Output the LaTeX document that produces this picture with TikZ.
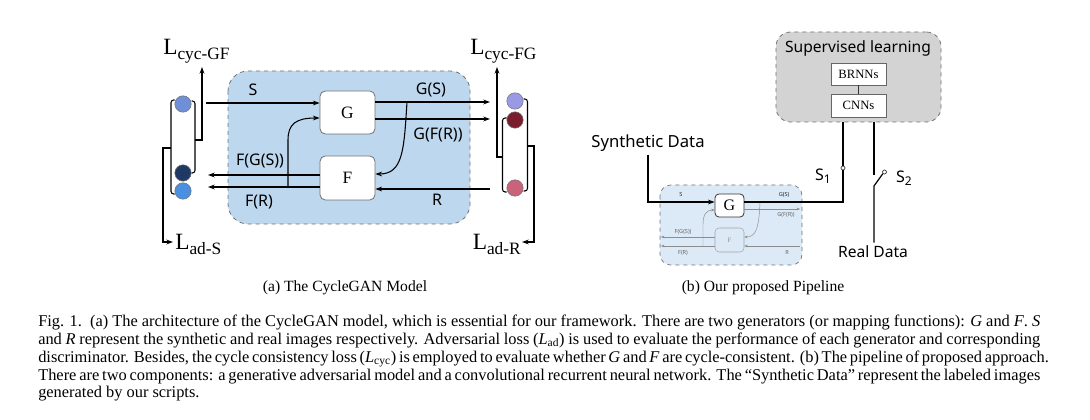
\documentclass[tikz,border=0pt]{standalone}
\usepackage{fontspec}
\setmainfont{Liberation Serif}
\newfontfamily\lblsans{Noto Sans}
\usetikzlibrary{arrows.meta}
\definecolor{cgblue}{RGB}{189,215,238}
\definecolor{cgblueL}{RGB}{220,233,246}
\definecolor{supgray}{RGB}{211,211,211}
\definecolor{cA}{RGB}{111,143,214}
\definecolor{cB}{RGB}{32,56,100}
\definecolor{cC}{RGB}{74,144,226}
\definecolor{cD}{RGB}{153,153,230}
\definecolor{cE}{RGB}{122,30,46}
\definecolor{cF}{RGB}{201,98,122}
\begin{document}
\begin{tikzpicture}[x=0.75pt,y=-0.75pt,
  arr/.style={-{Stealth[length=5pt,width=3.6pt]}, line width=0.8pt},
  ln/.style={line width=0.8pt},
  circ/.style={circle, draw=black!55, line width=0.4pt, minimum size=12.3pt, inner sep=0pt},
  genbox/.style={draw=black!55, fill=white, rounded corners=4pt, line width=0.6pt, minimum width=41.25pt, inner sep=0pt, font=\fontsize{13}{13}\selectfont},
  lbl/.style={font=\lblsans\fontsize{12}{12}\selectfont, inner sep=0pt},
  tiny/.style={font=\lblsans\fontsize{4.2}{4.2}\selectfont, inner sep=0pt, text=black!60},
  faint/.style={-{Stealth[length=2.5pt,width=2pt]}, line width=0.35pt, draw=black!45},
  capt/.style={font=\fontsize{11.7}{13.3}\selectfont, inner sep=0pt},
  lossl/.style={inner sep=0pt, font=\fontsize{17.5}{17.5}\selectfont}
]
\useasboundingbox (0,0) rectangle (1090,420);
\fill[white] (0,0) rectangle (1090,420);

% ================= (a) CycleGAN =================
\draw[dashed, draw=black!55, fill=cgblue, rounded corners=15pt, line width=0.6pt] (228,71) rectangle (470,224);
\node[genbox, minimum height=32.25pt] (G) at (347.5,112.5) {G};
\node[genbox, minimum height=33pt] (F) at (347.5,178) {F};

% circles
\node[circ, fill=cA] (c1) at (183,104) {};
\node[circ, fill=cB] (c2) at (183,173) {};
\node[circ, fill=cC] (c3) at (183,191) {};
\node[circ, fill=cD] (c4) at (515,101) {};
\node[circ, fill=cE] (c5) at (515,120) {};
\node[circ, fill=cF] (c6) at (515,188) {};

% coordinates
\coordinate (sL) at (206,103);
\coordinate (gsR) at (490,102);
\coordinate (gfrR) at (490,119);
\coordinate (fgsL) at (208,175);
\coordinate (frL) at (208,187);
\coordinate (rR) at (490,189);

% arrows
\draw[arr] (sL) -- (sL -| G.west);
\draw[arr] (G.east |- gsR) -- (gsR);
\draw[arr] (G.east |- gfrR) -- (gfrR);
\draw[arr] (F.west |- fgsL) -- (fgsL);
\draw[arr] (F.west |- frL) -- (frL);
\draw[arr] (rR) -- (F.east |- rR);
\draw[arr] (407,102) .. controls (404,150) and (403,174) .. (F.east |- 0,174);
\draw[arr] (288,187) -- (288,140) .. controls (288,124) and (296,118) .. (G.west |- 0,118);

% labels
\node[lbl] (lS) at (253,90) {S};
\node[lbl] (lGS) at (431,90) {G(S)};
\node[lbl] (lGFR) at (438,135) {G(F(R))};
\node[lbl] (lFGS) at (260,161) {F(G(S))};
\node[lbl] (lFR) at (259,202) {F(R)};
\node[lbl] (lR) at (437,200) {R};

% brackets left
\draw[ln, rounded corners=2pt] (191.5,101) -- (195,101) -- (195,173) -- (191.5,173);
\draw[ln, rounded corners=2pt] (174.5,100) -- (171,100) -- (171,194) -- (174.5,194);
\coordinate (cycGFtip) at (202,67);
\coordinate (adStip) at (173,242);
\draw[arr] (195,140) -- (202,140) -- (cycGFtip);
\draw[arr] (171,148) -- (163,148) -- (163,242) -- (adStip);
% brackets right
\draw[ln, rounded corners=2pt] (506.5,118) -- (502.5,118) -- (502.5,192) -- (506.5,192);
\draw[ln, rounded corners=2pt] (523.5,99) -- (527.5,99) -- (527.5,191) -- (523.5,191);
\coordinate (cycFGtip) at (497,67);
\coordinate (adRtip) at (522,242);
\draw[arr] (502.5,157) -- (497,157) -- (cycFGtip);
\draw[arr] (527.5,146) -- (534,146) -- (534,242) -- (adRtip);

% loss labels
\node[lossl, anchor=base west] (LcycGF) at (163,55) {L\raisebox{-0.45ex}{\fontsize{13}{13}\selectfont cyc-GF}};
\node[lossl, anchor=base west] (LcycFG) at (470,55) {L\raisebox{-0.45ex}{\fontsize{13}{13}\selectfont cyc-FG}};
\node[lossl, anchor=base west] (LadS) at (175,250) {L\raisebox{-0.45ex}{\fontsize{13}{13}\selectfont ad-S}};
\node[lossl, anchor=base east] (LadR) at (521,250) {L\raisebox{-0.45ex}{\fontsize{13}{13}\selectfont ad-R}};

% ================= (b) Pipeline =================
\node[draw=black!55, dashed, fill=supgray, rounded corners=11pt, minimum width=123.75pt, minimum height=67.5pt, line width=0.6pt] (sup) at (858.5,77) {};
\node[lbl, font=\lblsans\fontsize{11.7}{11.7}\selectfont] (suplbl) at (858,48) {Supervised learning};
\node[draw=black!60, fill=white, minimum width=41.25pt, minimum height=16.5pt, inner sep=0pt, font=\fontsize{9.5}{9.5}\selectfont] (brnn) at (858.5,74) {BRNNs};
\node[draw=black!60, fill=white, minimum width=41.25pt, minimum height=17pt, inner sep=0pt, font=\fontsize{9.5}{9.5}\selectfont] (cnn) at (858.5,105.5) {CNNs};
\draw[line width=0.8pt, black!80] (brnn) -- (cnn);

\draw[dashed, draw=black!55, fill=cgblueL, rounded corners=8pt, line width=0.5pt] (660,185) rectangle (802,265);
\node[draw=black!80, fill=white, rounded corners=3pt, minimum width=21.75pt, minimum height=17.25pt, inner sep=0pt, line width=0.6pt, font=\fontsize{12}{12}\selectfont] (G2) at (729.5,205.5) {G};
\node[draw=black!35, fill=cgblueL, rounded corners=3pt, minimum width=21.75pt, minimum height=18pt, inner sep=0pt, line width=0.4pt, text=black!45, font=\fontsize{5}{5}\selectfont] (F2) at (729.5,240) {F};

\draw[faint] (G2.east |- 0,209) -- (800,209);
\draw[faint] (760,202) .. controls (759,228) and (756,237) .. (F2.east |- 0,237);
\draw[faint] (F2.west |- 0,237) -- (661,237);
\draw[faint] (F2.west |- 0,246) -- (661,246);
\draw[faint] (703,246) -- (703,224) .. controls (703,214) and (707,210) .. (G2.west |- 0,210);
\draw[faint] (800,246) -- (F2.east |- 0,246);

\node[tiny, text=black!85] (tS) at (681,195) {S};
\node[tiny, text=black!85] (tGS) at (784,195) {G(S)};
\node[tiny] (tGFR) at (786,215) {G(F(R))};
\node[tiny] (tFGS) at (683,232) {F(G(S))};
\node[tiny] (tFR) at (683,253) {F(R)};
\node[tiny] (tR) at (787,253) {R};

% synthetic data
\node[lbl, font=\lblsans\fontsize{12.5}{12.5}\selectfont] (synth) at (648,143) {Synthetic Data};
\coordinate (synC) at (648,202);
\draw[arr, line width=0.9pt] (synth.south -| synC) ++(0,3) -- (synC) -- (synC -| G2.west);

% S1 switch
\node[circle, draw=black!80, fill=white, minimum size=3pt, inner sep=0pt, line width=0.5pt] (s1c) at (843,168) {};
\coordinate (s1corner) at (843,202);
\draw[line width=0.9pt] (sup.south -| s1c) -- (s1c.north);
\draw[line width=0.9pt] (s1c.south) -- (s1corner) -- (s1corner -| G2.east);
\node[lbl, font=\lblsans\fontsize{12}{12}\selectfont] (S1lbl) at (823,176) {S\raisebox{-0.4ex}{\fontsize{9}{9}\selectfont 1}};

% S2 switch
\node[circle, draw=black!80, fill=white, minimum size=3pt, inner sep=0pt, line width=0.5pt] (s2c) at (884.5,172) {};
\coordinate (s2top) at (874,175);
\coordinate (s2piv) at (874,186);
\node[lbl, font=\lblsans\fontsize{11.7}{11.7}\selectfont] (real) at (873,252) {Real Data};
\draw[line width=0.9pt] (sup.south -| s2top) -- (s2top);
\draw[line width=0.9pt] (real.north -| s2piv) ++(0,-3) -- (s2piv) -- (s2c.south west);
\node[lbl, font=\lblsans\fontsize{12}{12}\selectfont] (S2lbl) at (904,178) {S\raisebox{-0.4ex}{\fontsize{9}{9}\selectfont 2}};

% ================= captions =================
\node[capt] (capa) at (345,288) {(a) The CycleGAN Model};
\node[capt] (capb) at (763,288) {(b) Our proposed Pipeline};
\node[capt, anchor=north west] (figcap) at (38,315) {\parbox{751.5pt}{\fontsize{12.3}{13.3}\selectfont
\hbox to\hsize{Fig. 1.\enspace (a) The architecture of the CycleGAN model, which is essential for our framework. There are two generators (or mapping functions): \textit{G} and \textit{F}. \textit{S}}
\hbox to\hsize{and \textit{R} represent the synthetic and real images respectively. Adversarial loss (\textit{L}\textsubscript{ad}) is used to evaluate the performance of each generator and corresponding}
\hbox to\hsize{discriminator. Besides, the cycle consistency loss (\textit{L}\textsubscript{cyc}) is employed to evaluate whether \textit{G} and \textit{F} are cycle-consistent. (b) The pipeline of proposed approach.}
\hbox to\hsize{There are two components: a generative adversarial model and a convolutional recurrent neural network. The “Synthetic Data” represent the labeled images}
\hbox{generated by our scripts.}}};
\end{tikzpicture}
\end{document}
